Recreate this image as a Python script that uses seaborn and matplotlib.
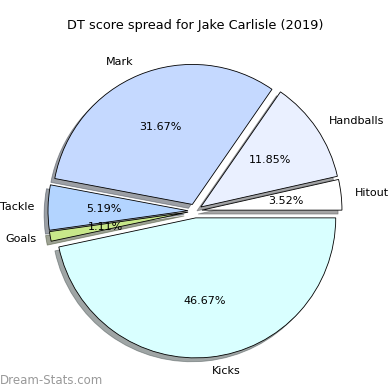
import matplotlib
matplotlib.use("Agg")
import matplotlib.pyplot as plt
import seaborn as sns

sns.set_theme(style="white")
plt.rcParams['font.family'] = ['DejaVu Sans']

labels = ["Hitout", "Handballs", "Mark", "Tackle", "Goals", "Kicks"]
values = [3.52, 11.85, 31.67, 5.19, 1.11, 46.67]
colors = ["#ffffff", "#eaf0ff", "#c5d9ff", "#b3d4ff", "#c8e88a", "#d9ffff"]
explode = [0.05, 0.05, 0.05, 0.05, 0.05, 0.05]

fig = plt.figure(figsize=(3.9, 3.9), dpi=100)
ax = fig.add_axes([0.0513, 0.0105, 0.8974, 0.8974])
ax.pie(values, labels=labels, colors=colors, explode=explode, shadow=True,
       autopct='%.2f%%', startangle=0,
       wedgeprops=dict(edgecolor="black", linewidth=0.6),
       textprops=dict(fontsize=8, color="black"))
ax.set_aspect("equal")
fig.suptitle("DT score spread for Jake Carlisle (2019)", fontsize=9.3, y=0.95, color="black")
fig.text(0.0, 0.015, "Dream-Stats.com", fontsize=8.5, color="#999999")
fig.savefig("out.png", dpi=100)
